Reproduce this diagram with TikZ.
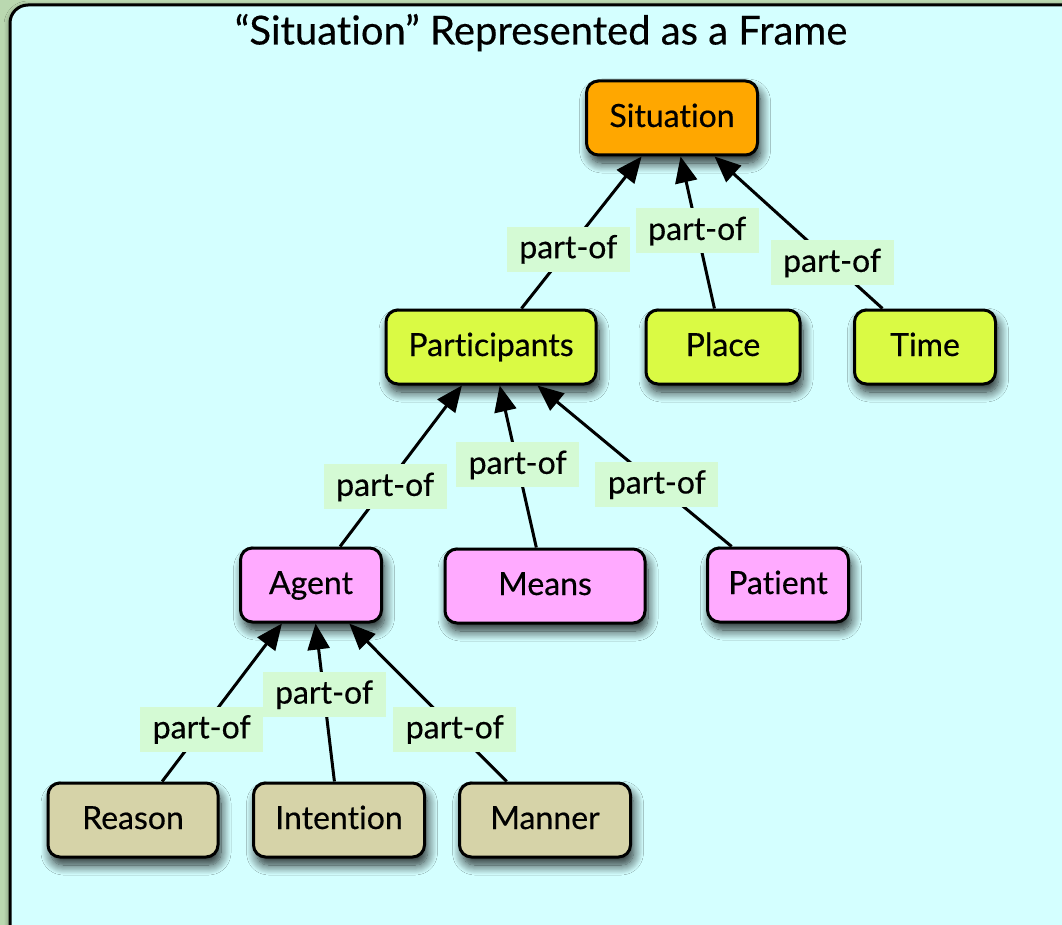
\documentclass[tikz,border=0pt]{standalone}
\usepackage{fontspec}
\setmainfont{Lato}[Ligatures=NoCommon, FakeBold=0.4]
\usetikzlibrary{arrows.meta,shadows.blur}

\definecolor{pageGreen}{RGB}{186,216,176}
\definecolor{frameCyan}{RGB}{212,255,255}
\definecolor{topOrange}{RGB}{255,167,0}
\definecolor{midLime}{RGB}{218,250,68}
\definecolor{leafPink}{RGB}{255,170,255}
\definecolor{baseKhaki}{RGB}{214,211,168}
\definecolor{tagGreen}{RGB}{212,250,212}

\tikzset{
  framebox/.style={draw=black, line width=3pt, rounded corners=18pt, fill=frameCyan,
    blur shadow={shadow xshift=0pt, shadow yshift=-2pt, shadow blur radius=6pt,
      shadow opacity=45, shadow blur steps=8}},
  conceptbox/.style={draw=black, line width=3pt, rounded corners=12pt,
    minimum height=74pt, inner sep=0pt,
    font=\fontsize{32}{36}\selectfont, text height=23pt, text depth=5pt,
    blur shadow={shadow xshift=3pt, shadow yshift=-8pt, shadow blur radius=10pt,
      shadow opacity=85, shadow blur steps=12}},
  rootbox/.style={conceptbox, fill=topOrange},
  limebox/.style={conceptbox, fill=midLime},
  pinkbox/.style={conceptbox, fill=leafPink},
  khakibox/.style={conceptbox, fill=baseKhaki},
  tag/.style={fill=tagGreen, minimum width=123pt, minimum height=45pt, inner sep=0pt,
    font=\fontsize{32}{36}\selectfont, text height=23pt, text depth=5pt},
  partof/.style={draw=black, line width=3pt,
    -{Triangle[length=26pt,width=22pt,fill=black]}},
  heading/.style={font=\fontsize{40}{46}\selectfont, inner sep=0pt, text height=28pt, text depth=7pt}
}

\begin{document}
\begin{tikzpicture}[x=1pt,y=-1pt]
  \useasboundingbox (0,0) rectangle (1062,925);
  \fill[pageGreen] (0,0) rectangle (1062,925);
  \draw[framebox] (10,5) rectangle (1090,942);

  \node[heading] (title) at (541,34) {“Situation” Represented as a Frame};

  % concept boxes
  \node[rootbox,  minimum width=171pt] (situation)    at (672,118) {Situation};
  \node[limebox,  minimum width=210pt] (participants) at (491,347) {Participants};
  \node[limebox,  minimum width=154pt] (place)        at (723,347) {Place};
  \node[limebox,  minimum width=141pt] (time)         at (925,347) {Time};
  \node[pinkbox,  minimum width=141pt] (agent)        at (311,585) {Agent};
  \node[pinkbox,  minimum width=200pt] (means)        at (545,586) {Means};
  \node[pinkbox,  minimum width=141pt] (patient)      at (778,585) {Patient};
  \node[khakibox, minimum width=170pt] (reason)       at (133,820) {Reason};
  \node[khakibox, minimum width=171pt] (intention)    at (339,820) {Intention};
  \node[khakibox, minimum width=171pt] (manner)       at (545,820) {Manner};

  % part-of links, child to parent
  \draw[partof] (participants) -- node[tag, pos=0.39] {part-of} (situation);
  \draw[partof] (place)        -- node[tag, pos=0.51] {part-of} (situation);
  \draw[partof] (time)         -- node[tag, pos=0.30] {part-of} (situation);

  \draw[partof] (agent)   -- node[tag, pos=0.37] {part-of} (participants);
  \draw[partof] (means)   -- node[tag, pos=0.51] {part-of} (participants);
  \draw[partof] (patient) -- node[tag, pos=0.385] {part-of} (participants);

  \draw[partof] (reason)    -- node[tag, pos=0.33] {part-of} (agent);
  \draw[partof] (intention) -- node[tag, pos=0.55] {part-of} (agent);
  \draw[partof] (manner)    -- node[tag, pos=0.33] {part-of} (agent);
\end{tikzpicture}
\end{document}
